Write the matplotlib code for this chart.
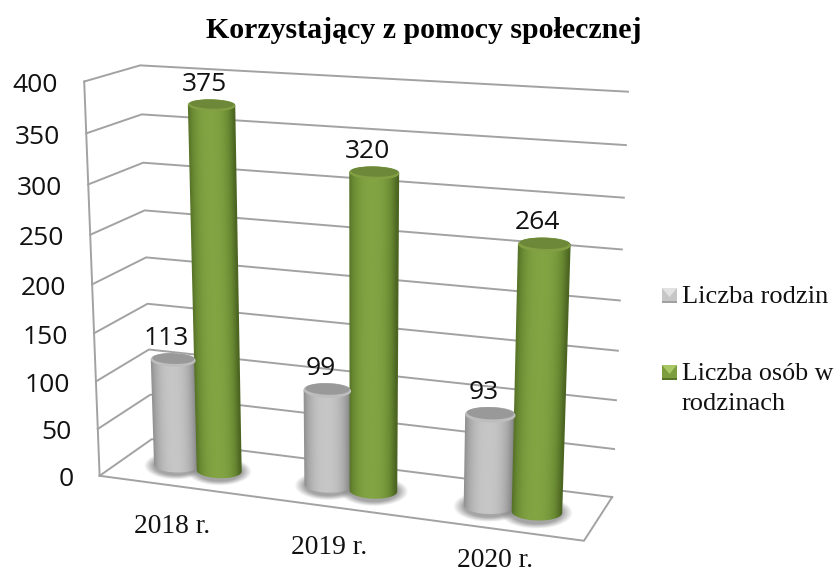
import numpy as np
import matplotlib
matplotlib.use("Agg")
import matplotlib.pyplot as plt
from matplotlib.colors import LinearSegmentedColormap
from matplotlib.patches import Polygon, Rectangle

title = "Korzystający z pomocy społecznej"
categories = ["2018 r.", "2019 r.", "2020 r."]
series_names = ["Liczba rodzin", "Liczba osób w\nrodzinach"]
rodziny = [113, 99, 93]
osoby = [375, 320, 264]
y_ticks = [0, 50, 100, 150, 200, 250, 300, 350, 400]

serif = "Liberation Serif"
sans = "Open Sans"

# %% camera: box (u across, v value, d depth) -> picture pixels, fitted on the box edges
box_pts = [(0, 0, 0), (0, 400, 0), (0, 0, 1), (0, 400, 1), (1, 0, 1), (1, 400, 1), (1, 0, 0),
           (0, 100, 0), (0, 100, 1), (0, 300, 0), (0, 300, 1), (1, 50, 1), (1, 250, 1)]
pix_pts = [(99, 476), (84, 82), (153, 439), (140, 65), (612, 497), (628, 92), (584, 541),
           (96, 381), (148, 350), (89, 184), (143, 163), (614, 449), (622, 249)]
rows = []
for (u, v, d), (px, py) in zip(box_pts, pix_pts):
    X = [u, v / 400, d, 1]
    rows.append(X + [0, 0, 0, 0] + [-px * a for a in X])
    rows.append([0, 0, 0, 0] + X + [-py * a for a in X])
cam = np.linalg.svd(np.array(rows, dtype=float))[2][-1].reshape(3, 4)


def project(u, v, d):
    p = cam @ np.array([u, v / 400, d, 1.0])
    return p[0] / p[2], p[1] / p[2]


fig = plt.figure(figsize=(8.38, 5.74), dpi=100)
ax = fig.add_axes([0, 0, 1, 1])
ax.set_xlim(0, 838)
ax.set_ylim(574, 0)
ax.axis("off")

# %% walls and floor
grid_col = "#a2a2a2"
for t in y_ticks:
    a, b, c = project(0, t, 0), project(0, t, 1), project(1, t, 1)
    ax.plot([a[0], b[0], c[0]], [a[1], b[1], c[1]], color=grid_col, lw=1.4, zorder=1)
    ax.text(a[0] - 26, a[1] + 4, str(t), ha="right", va="center", family=sans,
            fontsize=19, color="#111111")
a, b = project(0, 0, 0), project(0, 400, 0)
ax.plot([a[0], b[0]], [a[1], b[1]], color=grid_col, lw=1.4, zorder=1)
a, b, c = project(0, 0, 0), project(1, 0, 0), project(1, 0, 1)
ax.plot([a[0], b[0], c[0]], [a[1], b[1], c[1]], color=grid_col, lw=1.4, zorder=1)

# %% cylinders
gray_map = LinearSegmentedColormap.from_list("g", ["#858585", "#a8a8a8", "#c6c6c6"])
green_map = LinearSegmentedColormap.from_list("v", ["#4c6622", "#6a8a33", "#83a443"])
depth = 0.46
radius = 0.050
offset = 0.145
tilt = 0.03


def ellipse_size(u, v):
    left, right = project(u - radius, v, depth), project(u + radius, v, depth)
    rx = (right[0] - left[0]) / 2
    return rx, rx * (0.33 - 0.09 * v / 400)


def draw_shadow(u):
    cx, cy = project(u, 0, depth)
    rx, ry = ellipse_size(u, 0)
    xs = np.linspace(cx - rx * 1.8, cx + rx * 1.8, 90)
    ys = np.linspace(cy - ry * 2.2, cy + ry * 2.6, 50)
    xx, yy = np.meshgrid(xs, ys)
    dist = np.sqrt(((xx - cx) / (rx * 1.45)) ** 2 + ((yy - cy - 1) / (ry * 1.9)) ** 2)
    rgba = np.zeros(xx.shape + (4,))
    rgba[..., :3] = 0.5
    rgba[..., 3] = 0.7 * np.clip((1 - dist) / 0.3, 0, 1)
    ax.imshow(rgba, extent=(xs[0], xs[-1], ys[-1], ys[0]), aspect="auto", zorder=2)


def draw_cylinder(u, val, cmap, cap_col, rim_col):
    bx, by = project(u, 0, depth)
    brx, bry = ellipse_size(u, 0)
    cx, cy = project(u, val, depth)
    rx, ry = ellipse_size(u, val)
    t = np.linspace(0, 2 * np.pi, 120)
    front = t[:61]
    # outline of the body: lower half of the foot, then across the top
    foot = np.column_stack([bx + brx * np.cos(front), by + bry * np.sin(front) + tilt * brx * np.cos(front)])
    head = np.column_stack([cx - rx * np.cos(front), cy - ry * np.sin(front)])
    outline = np.vstack([foot, head])
    # shading across the body, per pixel between the two slanted edges
    xs = np.arange(min(cx - rx, bx - brx) - 2, max(cx + rx, bx + brx) + 2, 0.5)
    ys = np.arange(cy - ry - 2, by + bry + 2, 0.5)
    xx, yy = np.meshgrid(xs, ys)
    f = (yy - cy) / (by - cy)
    mid = cx + (bx - cx) * f
    half = rx + (brx - rx) * f
    c = np.clip((xx - mid) / half, -1, 1)
    shade = 1 - np.abs(c + 0.08) ** 2.4
    im = ax.imshow(np.clip(shade, 0, 1), extent=(xs[0], xs[-1], ys[-1], ys[0]), cmap=cmap,
                   vmin=0, vmax=1, aspect="auto", interpolation="bilinear", zorder=3)
    body = Polygon(outline, closed=True, transform=ax.transData, fc="none", ec="none")
    im.set_clip_path(body)
    # cap on top, light rim with darker face
    cap = np.column_stack([cx + rx * np.cos(t), cy + ry * np.sin(t) + tilt * rx * np.cos(t)])
    ax.add_patch(Polygon(cap, closed=True, fc=rim_col, ec="none", zorder=4))
    face = np.column_stack([cx + rx * 0.93 * np.cos(t), cy - ry * 0.2 + ry * 0.78 * np.sin(t) + tilt * rx * np.cos(t)])
    ax.add_patch(Polygon(face, closed=True, fc=cap_col, ec="none", zorder=5))
    return cx, cy - ry


for i in range(len(categories)):
    u_gray = (i + 0.5 - offset) / 3
    u_green = (i + 0.5 + offset) / 3
    draw_shadow(u_gray)
    draw_shadow(u_green)
    x_top, y_top = draw_cylinder(u_gray, rodziny[i], gray_map, "#999999", "#bdbdbd")
    ax.text(x_top - 7, y_top - 15, str(rodziny[i]), ha="center", va="center",
            family=sans, fontsize=19, color="#111111", zorder=6)
    x_top, y_top = draw_cylinder(u_green, osoby[i], green_map, "#6c8838", "#82a043")
    ax.text(x_top - 7, y_top - 15, str(osoby[i]), ha="center", va="center",
            family=sans, fontsize=19, color="#111111", zorder=6)
    fx, fy = project((i + 0.5) / 3, 0, 0)
    # last label has to stay inside the picture
    ax.text(fx - 2, fy + (41 if i < 2 else 31), categories[i], ha="center", va="center",
            family=serif, fontsize=19.8, color="#111111")

ax.set_xlim(0, 838)
ax.set_ylim(574, 0)

# %% title and legend
ax.text(424, 31, title, ha="center", va="center", family=serif, fontweight="bold",
        fontsize=21.5, color="black")


def legend_box(x, y, base, light, dark):
    s = 15
    ax.add_patch(Rectangle((x, y), s, s, fc=base, ec="none"))
    ax.add_patch(Polygon([(x, y), (x + s, y), (x + s / 2, y + s * 0.6)], fc=light, ec="none"))
    ax.add_patch(Polygon([(x, y + s), (x + s, y + s), (x + s, y + s - 2), (x, y + s - 2)], fc=dark, ec="none"))


legend_box(662, 288, "#c6c6c6", "#e2e2e2", "#a0a0a0")
legend_box(662, 365, "#7d9e3e", "#a9c765", "#587428")
ax.text(682, 303, series_names[0], ha="left", va="baseline", family=serif, fontsize=19, color="#111111")
ax.text(682, 380, series_names[1].split("\n")[0], ha="left", va="baseline", family=serif, fontsize=18.7, color="#111111")
ax.text(682, 410, series_names[1].split("\n")[1], ha="left", va="baseline", family=serif, fontsize=19, color="#111111")

fig.savefig("out.png", dpi=100)
